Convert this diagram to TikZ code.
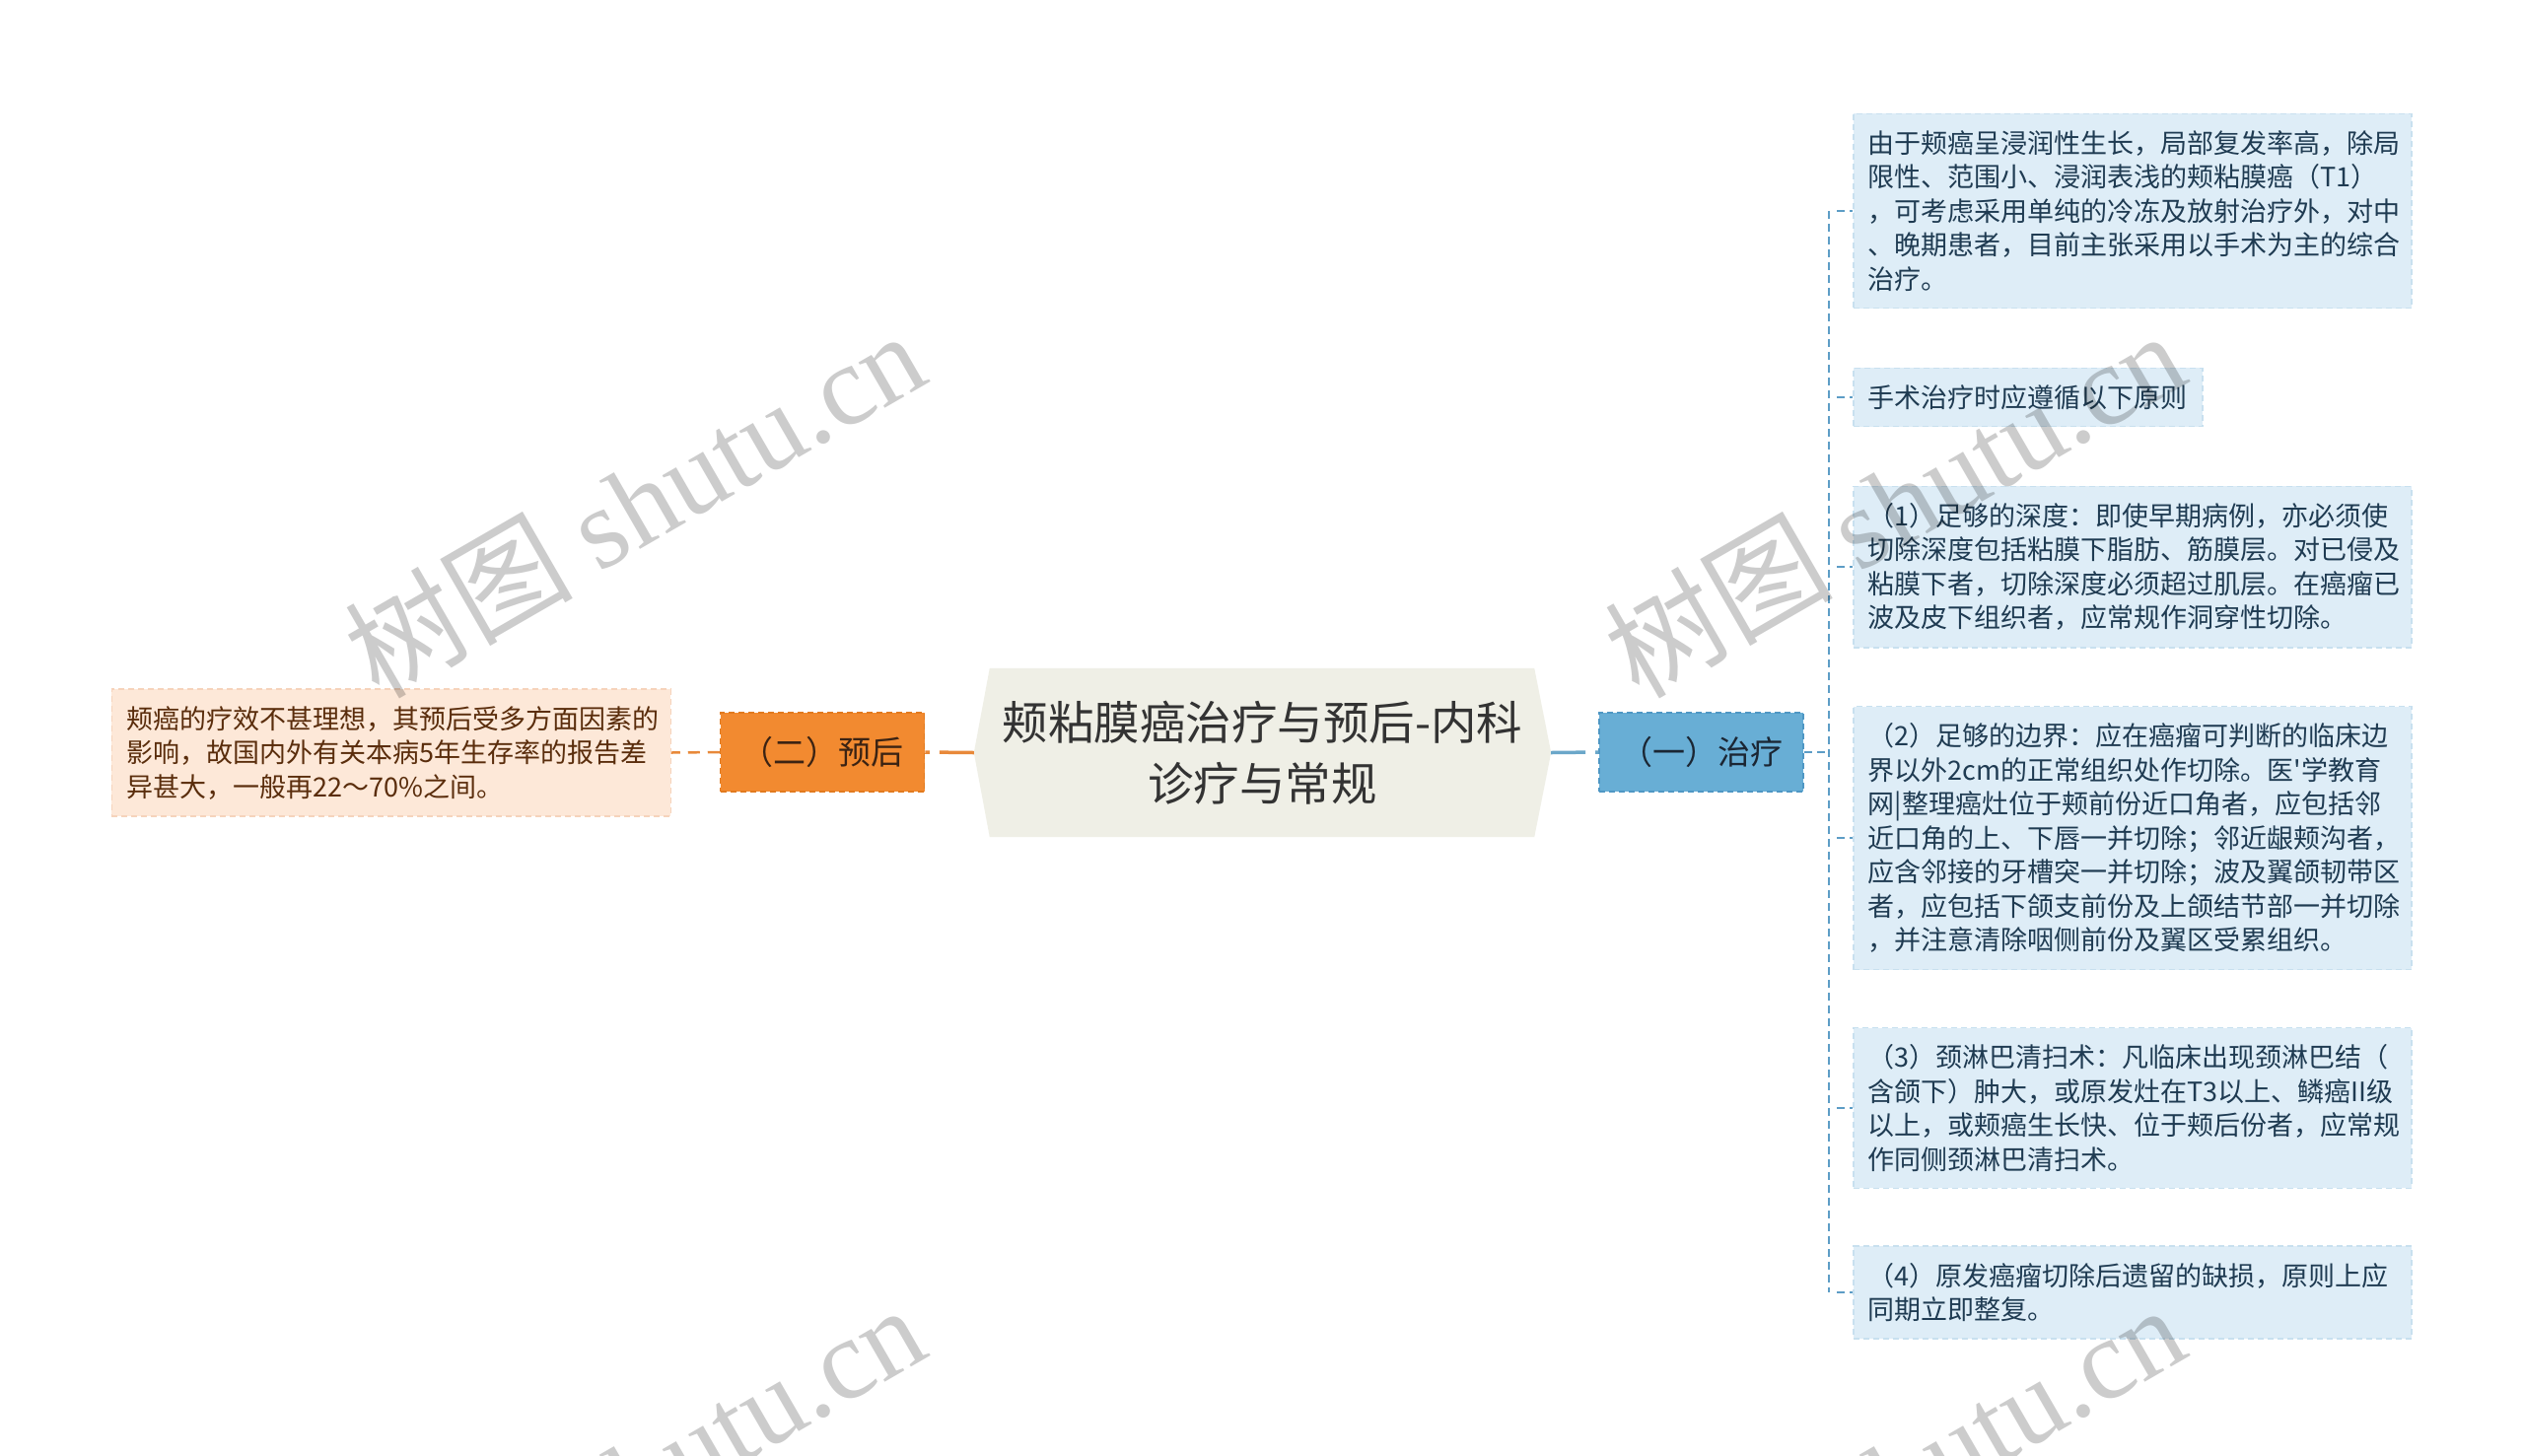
\documentclass[tikz,border=0pt]{standalone}
\usepackage{fontspec}
\newfontfamily\cjk{Noto Sans CJK SC}
\newfontfamily\wmlatin{Liberation Serif}
\usetikzlibrary{calc,backgrounds}
\definecolor{centfill}{HTML}{EFEFE6}
\definecolor{centtext}{HTML}{333333}
\definecolor{bluefill}{HTML}{68AED5}
\definecolor{blueborder}{HTML}{4F97C4}
\definecolor{bluetext}{HTML}{1B2633}
\definecolor{orangefill}{HTML}{F28A30}
\definecolor{orangeborder}{HTML}{E27A1E}
\definecolor{orangetext}{HTML}{3B2313}
\definecolor{leafRfill}{HTML}{DEEDF7}
\definecolor{leafRborder}{HTML}{C8E0EF}
\definecolor{leafRtext}{HTML}{1F3B52}
\definecolor{leafLfill}{HTML}{FDE8D8}
\definecolor{leafLborder}{HTML}{F6D3BB}
\definecolor{leafLtext}{HTML}{5A2D0C}
\definecolor{connblue}{HTML}{6BA7C9}
\definecolor{subblue}{HTML}{5D9DC6}
\definecolor{connorange}{HTML}{E8893A}
\tikzset{
  every node/.style={font=\cjk},
  centnode/.style={minimum width=585pt, minimum height=171pt, inner sep=0pt,
    text=centtext, align=center, font=\cjk\fontsize{46.5}{62}\selectfont},
  topicbox/.style={minimum width=207pt, minimum height=80pt, inner sep=0pt,
    line width=1.5pt, dash pattern=on 6pt off 4pt, font=\cjk\fontsize{33}{40}\selectfont},
  bluebox/.style={topicbox, fill=bluefill, draw=blueborder, text=bluetext},
  orangebox/.style={topicbox, fill=orangefill, draw=orangeborder, text=orangetext},
  leafbox/.style={inner xsep=15pt, inner ysep=17pt, align=left, line width=1.5pt,
    dash pattern=on 6pt off 4pt, font=\cjk\fontsize{27}{34.5}\selectfont},
  rleaf/.style={leafbox, fill=leafRfill, draw=leafRborder, text=leafRtext, anchor=west},
  lleaf/.style={leafbox, fill=leafLfill, draw=leafLborder, text=leafLtext, anchor=east},
  mainconn/.style={line width=3.5pt, dash pattern=on 35pt off 10pt},
  subconn/.style={line width=2.2pt, subblue, dash pattern=on 8pt off 5pt},
  wm/.style={rotate=30, text=black, text opacity=0.2, inner sep=0pt,
    font=\cjk\fontsize{116}{116}\selectfont}
}
\begin{document}
\begin{tikzpicture}[x=1pt,y=-1pt]
\useasboundingbox (0,0) rectangle (2560,1476);

% central
\node[centnode] (c) at (1280.5,763.5) {颊粘膜癌治疗与预后-内科\\诊疗与常规};
\begin{scope}[on background layer]
\fill[white] (0,0) rectangle (2560,1476);
\fill[centfill] ($(c.north west)+(16,0)$) -- ($(c.north east)+(-17,0)$) -- (c.east)
  -- ($(c.south east)+(-17,0)$) -- ($(c.south west)+(16,0)$) -- (c.west) -- cycle;
\end{scope}

% level 1
\node[bluebox] (n1) at (1725.5,763) {（一）治疗};
\node[orangebox] (n2) at (834,763) {（二）预后};

% right leaves
\node[rleaf, text width=536pt] (r1) at (1879,214) {由于颊癌呈浸润性生长，局部复发率高，除局\\限性、范围小、浸润表浅的颊粘膜癌（T1）\\，可考虑采用单纯的冷冻及放射治疗外，对中\\、晚期患者，目前主张采用以手术为主的综合\\治疗。};
\node[rleaf] (r2) at (1879,403) {手术治疗时应遵循以下原则};
\node[rleaf, text width=536pt] (r3) at (1879,575) {（1）足够的深度：即使早期病例，亦必须使\\切除深度包括粘膜下脂肪、筋膜层。对已侵及\\粘膜下者，切除深度必须超过肌层。在癌瘤已\\波及皮下组织者，应常规作洞穿性切除。};
\node[rleaf, text width=536pt] (r4) at (1879,850) {（2）足够的边界：应在癌瘤可判断的临床边\\界以外2cm的正常组织处作切除。医'学教育\\网|整理癌灶位于颊前份近口角者，应包括邻\\近口角的上、下唇一并切除；邻近龈颊沟者，\\应含邻接的牙槽突一并切除；波及翼颌韧带区\\者，应包括下颌支前份及上颌结节部一并切除\\，并注意清除咽侧前份及翼区受累组织。};
\node[rleaf, text width=536pt] (r5) at (1879,1124) {（3）颈淋巴清扫术：凡临床出现颈淋巴结（\\含颌下）肿大，或原发灶在T3以上、鳞癌II级\\以上，或颊癌生长快、位于颊后份者，应常规\\作同侧颈淋巴清扫术。};
\node[rleaf, text width=536pt] (r6) at (1879,1311) {（4）原发癌瘤切除后遗留的缺损，原则上应\\同期立即整复。};

% left leaf
\node[lleaf, text width=537pt] (l1) at (681,763.5) {颊癌的疗效不甚理想，其预后受多方面因素的\\影响，故国内外有关本病5年生存率的报告差\\异甚大，一般再22～70\%之间。};

% connectors
\draw[mainconn, connblue] (c.east) -- (n1.west);
\draw[mainconn, connorange] (c.west) -- (n2.east);
\draw[line width=2.5pt, connorange, dash pattern=on 12pt off 8pt] (n2.west) -- (l1.east);

\coordinate (trunk) at (1855,763);
\draw[subconn] (n1.east) -- (trunk);
\draw[subconn] (trunk |- r1.west) -- (trunk |- r6.west);
\foreach \r in {r1,r2,r3,r4,r5,r6}{
  \draw[subconn] ($(trunk |- \r.west)+(8,0)$) -- (\r.west);
}

% watermarks
\node[wm] (w1) at (643,510) {树图 {\wmlatin shutu.cn}};
\node[wm] (w2) at (1921,510) {树图 {\wmlatin shutu.cn}};
\node[wm] (w3) at (643,1498) {树图 {\wmlatin shutu.cn}};
\node[wm] (w4) at (1921,1498) {树图 {\wmlatin shutu.cn}};
\end{tikzpicture}
\end{document}
